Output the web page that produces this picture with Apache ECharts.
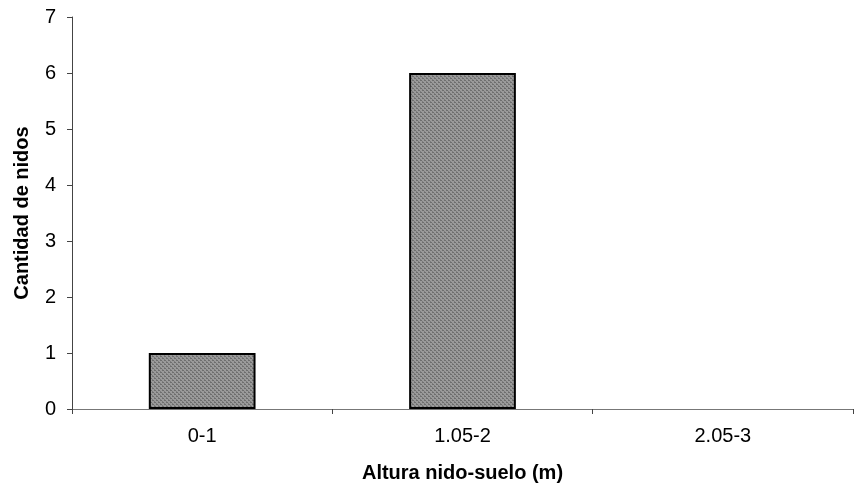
<!DOCTYPE html>
<html>
<head>
<meta charset="utf-8">
<script src="https://cdn.jsdelivr.net/npm/echarts@6/dist/echarts.min.js"></script>
<style>
  html, body { margin: 0; padding: 0; background: #fff; }
  #chart { width: 855px; height: 489px; }
</style>
</head>
<body>
<div id="chart"></div>
<script>
// data
const categories = ['0-1', '1.05-2', '2.05-3']
const nidos = [1, 6, 0]
const yTicks = [0, 1, 2, 3, 4, 5, 6, 7]

// small checker to mimic the hatched grey fill
function makePattern() {
  const c = document.createElement('canvas')
  c.width = 4
  c.height = 4
  const ctx = c.getContext('2d')
  ctx.fillStyle = '#9a9a9a'
  ctx.fillRect(0, 0, 4, 4)
  ctx.fillStyle = '#6e6e6e'
  ctx.fillRect(0, 0, 2, 1)
  ctx.fillRect(2, 2, 2, 1)
  ctx.fillStyle = '#7c7c7c'
  ctx.fillRect(2, 1, 1, 1)
  ctx.fillRect(0, 3, 1, 1)
  return c
}

const chart = echarts.init(document.getElementById('chart'))
const font = 'Liberation Sans, Arial, sans-serif'

// an empty class gets no outline, as in the original
const barData = nidos.map(v => v === 0 ? { value: v, itemStyle: { borderWidth: 0 } } : v)

chart.setOption({
  animation: false,
  grid: { left: 72, right: 2, top: 17, bottom: 80 },
  xAxis: {
    type: 'category',
    data: categories,
    name: 'Altura nido-suelo (m)',
    nameLocation: 'middle',
    nameGap: 54,
    nameTextStyle: { fontFamily: font, fontSize: 20, fontWeight: 'bold', color: '#000' },
    axisLine: { lineStyle: { color: '#777', width: 1 } },
    axisTick: { show: true, alignWithLabel: false, length: 5, lineStyle: { color: '#444' } },
    axisLabel: { fontFamily: font, fontSize: 20, color: '#000', margin: 17 }
  },
  yAxis: {
    type: 'value',
    min: yTicks[0],
    max: yTicks[yTicks.length - 1],
    interval: 1,
    name: 'Cantidad de nidos',
    nameLocation: 'middle',
    nameGap: 40,
    nameTextStyle: { fontFamily: font, fontSize: 20, fontWeight: 'bold', color: '#000' },
    splitLine: { show: false },
    axisLine: { show: true, lineStyle: { color: '#444', width: 1 } },
    axisTick: { show: true, length: 5, lineStyle: { color: '#444' } },
    axisLabel: { fontFamily: font, fontSize: 20, color: '#000', margin: 16 }
  },
  series: [{
    type: 'bar',
    data: barData,
    barWidth: '41%',
    itemStyle: {
      color: { image: makePattern(), repeat: 'repeat' },
      borderColor: '#000',
      borderWidth: 2
    }
  }]
})
</script>
</body>
</html>
